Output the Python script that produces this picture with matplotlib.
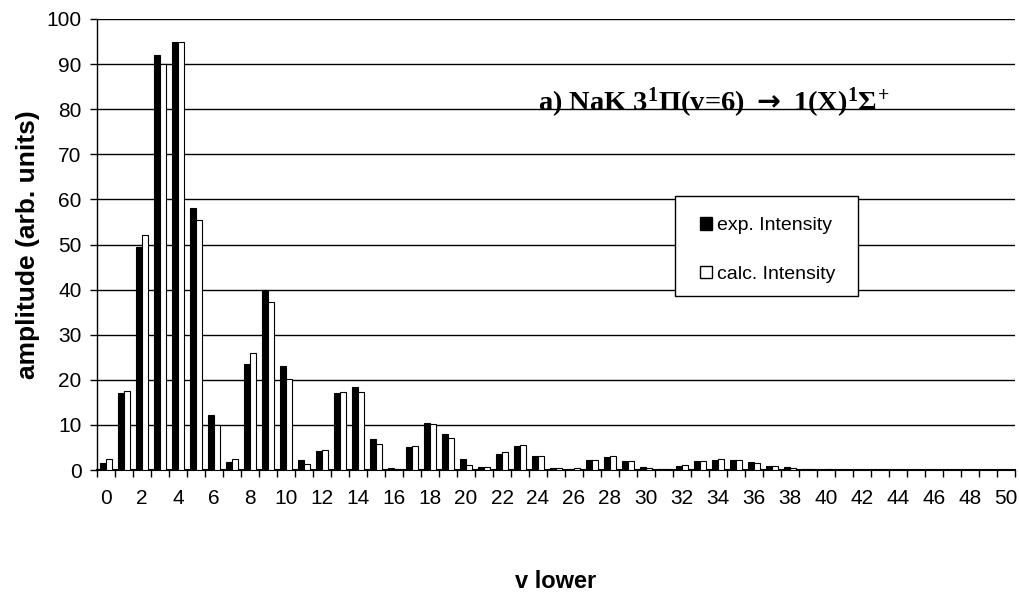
import numpy as np
import matplotlib
matplotlib.use("Agg")
import matplotlib.pyplot as plt
from matplotlib.patches import Patch, Rectangle

plt.rcParams['font.family'] = ['Liberation Sans', 'DejaVu Sans']
plt.rcParams['mathtext.fontset'] = 'custom'
plt.rcParams['mathtext.rm'] = 'Liberation Serif:bold'
plt.rcParams['mathtext.bf'] = 'Liberation Serif:bold'
plt.rcParams['mathtext.sf'] = 'DejaVu Sans:bold'
plt.rcParams['mathtext.default'] = 'rm'

# v lower = 0..50
v_lower = np.arange(51)
exp_intensity = [1.5, 17.0, 49.5, 92.0, 95.0, 58.0, 12.3, 1.8, 23.5, 40.0,
                 23.0, 2.3, 4.2, 17.0, 18.3, 6.8, 0.4, 5.2, 10.5, 8.0,
                 2.5, 0.6, 3.5, 5.3, 3.0, 0.5, 0.3, 2.2, 2.8, 2.0,
                 0.6, 0.2, 0.8, 2.0, 2.3, 2.2, 1.7, 0.9, 0.6, 0.3,
                 0.1] + [0.0] * 10
calc_intensity = [2.5, 17.5, 52.0, 90.0, 95.0, 55.5, 10.0, 2.5, 26.0, 37.3,
                  20.2, 1.3, 4.5, 17.3, 17.2, 5.7, 0.2, 5.3, 10.3, 7.2,
                  1.2, 0.6, 4.0, 5.6, 3.1, 0.4, 0.5, 2.3, 3.1, 2.0,
                  0.5, 0.2, 1.0, 1.9, 2.4, 2.2, 1.6, 0.8, 0.5, 0.2,
                  0.2] + [0.0] * 10
y_ticks = np.arange(0, 101, 10)
x_labels = np.arange(0, 51, 2)

W, H = 1019, 607
fig = plt.figure(figsize=(W / 100, H / 100), dpi=100)
ax = fig.add_axes([97 / W, (H - 470) / H, 918 / W, 451 / H])

bw = 0.33
ax.bar(v_lower - bw / 2, exp_intensity, width=bw, color='black',
       edgecolor='black', linewidth=0.8, zorder=3)
ax.bar(v_lower + bw / 2, calc_intensity, width=bw, color='white',
       edgecolor='black', linewidth=0.8, zorder=3)

ax.set_xlim(-0.5, 50.5)
ax.set_ylim(0, 100)
ax.set_yticks(y_ticks)
ax.set_xticks(x_labels)
ax.set_xticks(np.arange(-0.5, 51, 1), minor=True)
ax.tick_params(axis='x', which='major', length=0, pad=14, labelsize=15)
ax.tick_params(axis='x', which='minor', length=5, width=1, direction='out')
ax.tick_params(axis='y', length=5, width=1, direction='out', pad=6,
               labelsize=15)
ax.yaxis.grid(True, color='black', linewidth=1, zorder=0)
ax.set_axisbelow(True)
for s in ['top', 'right']:
    ax.spines[s].set_visible(False)
ax.spines['left'].set_linewidth(1)
ax.spines['bottom'].set_linewidth(1.5)

ax.set_ylabel('amplitude (arb. units)', fontsize=19, fontweight='bold',
              labelpad=5)
ax.set_xlabel('v lower', fontsize=17, fontweight='bold', labelpad=44)

# legend box
fig.patches.append(Rectangle((675 / W, 1 - 296 / H), 183 / W, 100 / H,
                             transform=fig.transFigure, facecolor='white',
                             edgecolor='black', linewidth=1, zorder=5))
handles = [Patch(facecolor='black', edgecolor='black', label='exp. Intensity'),
           Patch(facecolor='white', edgecolor='black', label='calc. Intensity')]
fig.legend(handles=handles, loc='center', bbox_to_anchor=(768 / W, 1 - 250 / H),
           frameon=False, fontsize=14, handlelength=0.62, handleheight=0.62,
           handletextpad=0.25, labelspacing=1.6)

fig.text(538 / W, 1 - 103 / H,
         r'a) NaK 3$^1\Pi$(v=6) $\mathsf{\rightarrow}$ 1(X)$^1\Sigma^{\!+}$',
         family=['Liberation Serif', 'DejaVu Serif'], fontweight='bold',
         fontsize=20.5, va='center', ha='left')

fig.savefig('out.png', dpi=100)
